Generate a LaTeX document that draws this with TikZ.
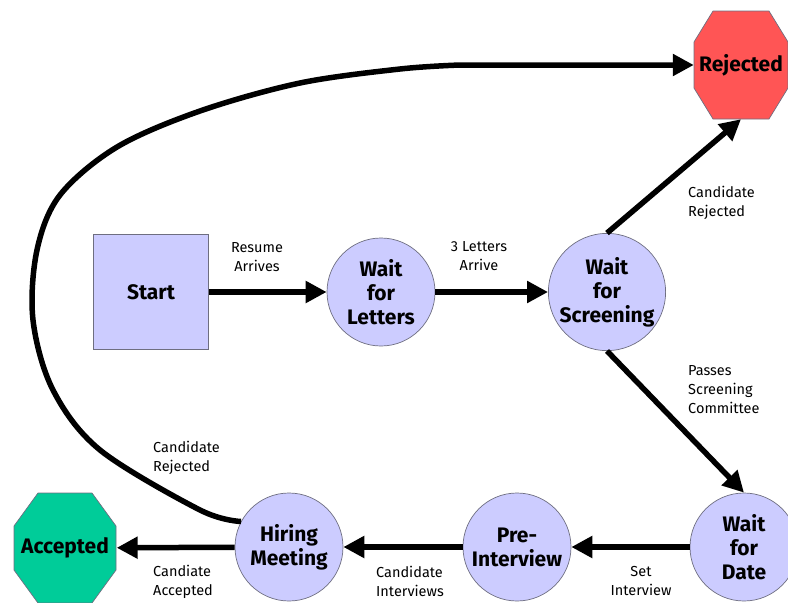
\documentclass[tikz,border=0pt]{standalone}
\usepackage{fontspec}
\setmainfont{Fira Sans}
\usetikzlibrary{arrows.meta}
\definecolor{statefill}{HTML}{CCCCFF}
\definecolor{rejfill}{HTML}{FF5555}
\definecolor{accfill}{HTML}{00CC99}
\definecolor{rimgray}{HTML}{6E6E80}

\tikzset{
    state/.style={circle, draw=rimgray, line width=0.7pt, fill=statefill,
        minimum size=108pt, inner sep=0pt, align=center,
        font=\fontsize{21}{24}\selectfont\bfseries},
    box/.style={rectangle, draw=rimgray, line width=0.7pt, fill=statefill,
        minimum size=115pt, inner sep=0pt,
        font=\fontsize{21}{24}\selectfont\bfseries},
    stop/.style={rectangle, inner sep=0pt,
        font=\fontsize{21}{24}\selectfont\bfseries},
    octline/.style={draw=rimgray, line width=0.7pt},
    lbl/.style={inner sep=0pt, font=\fontsize{14.5}{19}\selectfont},
    flow/.style={line width=5.5pt, -{Triangle[length=21pt, width=21pt]}},
}

\begin{document}
\begin{tikzpicture}[x=1pt, y=-1pt]
    \useasboundingbox (0,0) rectangle (788,603);
    \draw[octline, fill=rejfill, shift={(741,65)}] (-28,-54) -- (28,-54) -- (47,-23) -- (47,23)
        -- (28,54) -- (-28,54) -- (-47,23) -- (-47,-23) -- cycle;
    \draw[octline, fill=accfill, shift={(65,548)}] (-27,-55) -- (27,-55) -- (51,-22) -- (51,22)
        -- (27,55) -- (-27,55) -- (-51,22) -- (-51,-22) -- cycle;
    \node[box] at (151, 292) (start) {Start};
    \node[state] at (381, 292) (letters) {Wait\\for\\Letters};
    \node[state] at (607, 292) (screen) {Wait\\for\\Screening};
    \node[stop, minimum width=94pt, minimum height=108pt] at (741, 65) (rej) {Rejected};
    \node[state] at (744, 547) (date) {Wait\\for\\Date};
    \node[state] at (517, 547) (pre) {Pre-\\Interview};
    \node[state] at (289, 547) (hire) {Hiring\\Meeting};
    \node[stop, minimum width=103pt, minimum height=110pt] at (65, 548) (acc) {Accepted};
    \node[lbl, align=center] at (257, 257) (lbresume) {Resume\\Arrives};
    \node[lbl, align=center] at (479, 256) (lbletters) {3 Letters\\Arrive};
    \node[lbl, align=left, anchor=west] at (688, 203) (lbscrrej) {Candidate\\Rejected};
    \node[lbl, align=left, anchor=west] at (688, 390) (lbpasses) {Passes\\Screening\\Committee};
    \node[lbl, align=center] at (641, 581) (lbset) {Set\\Interview};
    \node[lbl, align=left, anchor=west] at (376, 581) (lbintv) {Candidate\\Interviews};
    \node[lbl, align=left, anchor=west] at (153, 582) (lbacc) {Candiate\\Accepted};
    \node[lbl, align=left, anchor=west] at (153, 458) (lbhirerej) {Candidate\\Rejected};
    \draw[flow] (start) -- (letters);
    \draw[flow] (letters) -- (screen);
    \draw[flow] (screen.north) -- (rej.south);
    \draw[flow] (screen.south) -- (date.north);
    \draw[flow] (date) -- (pre);
    \draw[flow] (pre) -- (hire);
    \draw[flow] (hire) -- (acc);
    \draw[flow] plot[smooth, tension=0.55] coordinates {(hire.152) (200,510) (100,450) (53,390)
        (33,320) (37,250) (60,195) (117,147) (200,111) (300,83) (400,69) (460,65)} -- (rej.west);
\end{tikzpicture}
\end{document}
